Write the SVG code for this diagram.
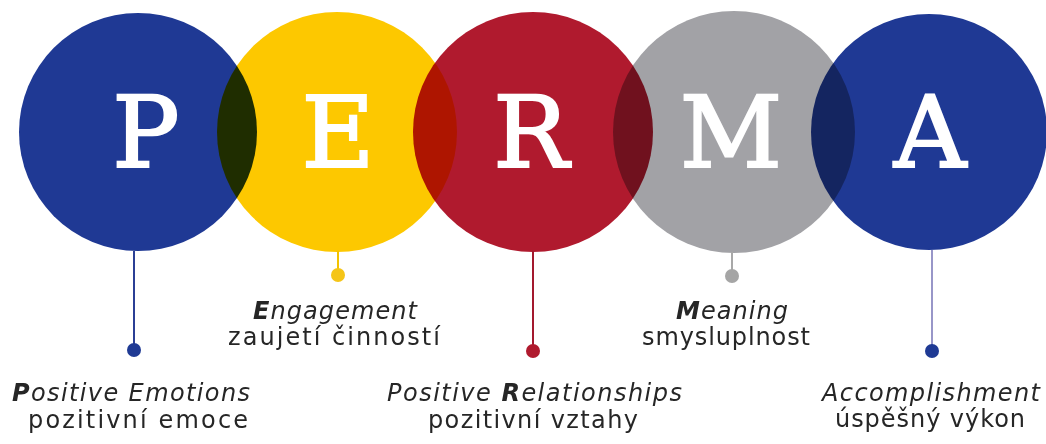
<svg xmlns="http://www.w3.org/2000/svg" width="1046" height="444" viewBox="0 0 1046 444">
  <style>
    .c { mix-blend-mode: multiply; }
    .letter { font-family: "DejaVu Serif", "Liberation Serif", serif; font-size: 100px; fill: #ffffff; stroke: #ffffff; stroke-width: 2.2px; text-anchor: middle; }
    .lbl { font-family: "DejaVu Sans", "Noto Sans", sans-serif; font-size: 24px; font-style: italic; fill: #262626; }
    .sub { font-family: "DejaVu Sans", "Noto Sans", sans-serif; font-size: 24px; fill: #262626; }
    .b { font-weight: bold; }
    .ln { stroke-width: 2; fill: none; }
  </style>
  <rect x="0" y="0" width="1046" height="444" fill="#ffffff"/>
  <g id="circles">
    <circle class="c" cx="138" cy="132" r="119" fill="#1f3994"/>
    <circle class="c" cx="337" cy="132" r="120" fill="#fdc800"/>
    <circle class="c" cx="533" cy="132" r="120" fill="#b01a2e"/>
    <circle class="c" cx="734" cy="132" r="121" fill="#a2a2a6"/>
    <circle class="c" cx="929" cy="132" r="118" fill="#1f3994"/>
  </g>
  <g id="connectors">
    <line class="ln" x1="134" y1="251" x2="134" y2="350" stroke="#2b3f95"/>
    <line class="ln" x1="338" y1="251" x2="338" y2="275" stroke="#f3c300"/>
    <line class="ln" x1="533" y1="251" x2="533" y2="351" stroke="#a3192e"/>
    <line class="ln" x1="732" y1="252" x2="732" y2="276" stroke="#a8a8a8"/>
    <line class="ln" x1="932" y1="250" x2="932" y2="351" stroke="#9896c8"/>
    <circle cx="134" cy="350" r="7" fill="#1f3a94"/>
    <circle cx="338" cy="275" r="7" fill="#f5c518"/>
    <circle cx="533" cy="351" r="7" fill="#b01a2e"/>
    <circle cx="732" cy="276" r="7" fill="#a5a5a5"/>
    <circle cx="932" cy="351" r="7" fill="#1f3a94"/>
  </g>
  <g id="node-P">
    <text class="letter" x="146" y="167">P</text>
    <text class="lbl" x="12" y="401" textLength="238" lengthAdjust="spacing"><tspan class="b">P</tspan>ositive Emotions</text>
    <text class="sub" x="28" y="428" textLength="220" lengthAdjust="spacing">pozitivní emoce</text>
  </g>
  <g id="node-E">
    <text class="letter" x="338" y="167">E</text>
    <text class="lbl" x="253" y="319" textLength="164" lengthAdjust="spacing"><tspan class="b">E</tspan>ngagement</text>
    <text class="sub" x="228" y="345" textLength="212" lengthAdjust="spacing">zaujetí činností</text>
  </g>
  <g id="node-R">
    <text class="letter" x="531" y="167">R</text>
    <text class="lbl" x="387" y="401" textLength="295" lengthAdjust="spacing">Positive <tspan class="b">R</tspan>elationships</text>
    <text class="sub" x="428" y="428" textLength="210" lengthAdjust="spacing">pozitivní vztahy</text>
  </g>
  <g id="node-M">
    <text class="letter" x="731" y="167">M</text>
    <text class="lbl" x="676" y="319" textLength="112" lengthAdjust="spacing"><tspan class="b">M</tspan>eaning</text>
    <text class="sub" x="642" y="345" textLength="168" lengthAdjust="spacing">smysluplnost</text>
  </g>
  <g id="node-A">
    <text class="letter" x="930" y="167">A</text>
    <text class="lbl" x="822" y="401" textLength="218" lengthAdjust="spacing">Accomplishment</text>
    <text class="sub" x="835" y="427" textLength="190" lengthAdjust="spacing">úspěšný výkon</text>
  </g>
</svg>
